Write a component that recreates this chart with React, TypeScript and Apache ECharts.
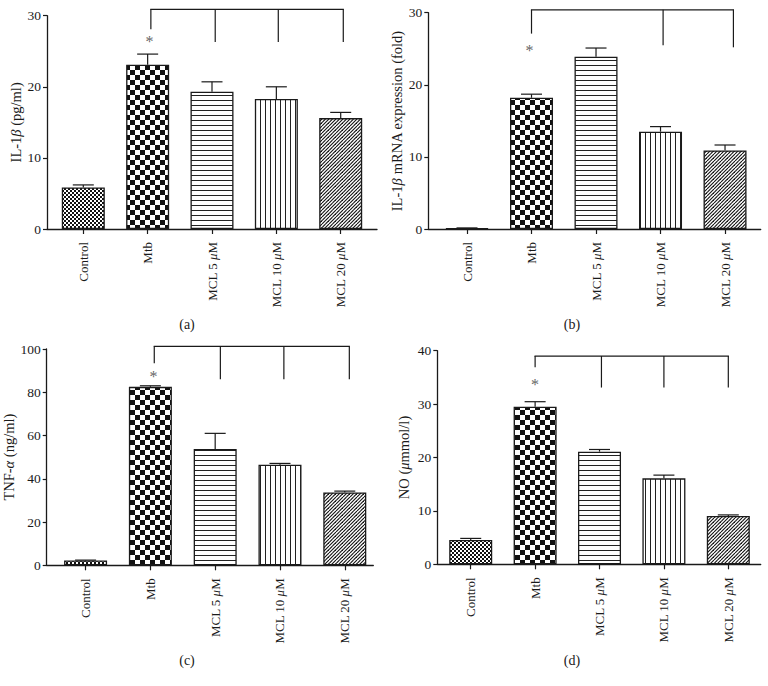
import React, { useEffect, useRef } from 'react';
import * as echarts from 'echarts';

// ---------- data ----------
const categories = ['Control', 'Mtb', 'MCL 5 μM', 'MCL 10 μM', 'MCL 20 μM'];
const categoryIndex = [0, 1, 2, 3, 4];

// (a) IL-1β protein (pg/ml)
const il1bProtein = [5.85, 23.1, 19.3, 18.3, 15.6];
const il1bProteinErr = [0.35, 1.5, 1.4, 1.7, 0.8];
// (b) IL-1β mRNA (fold)
const il1bMrna = [0.1, 18.2, 23.9, 13.5, 10.9];
const il1bMrnaErr = [0.05, 0.5, 1.2, 0.7, 0.75];
// (c) TNF-α (ng/ml)
const tnfAlpha = [2.2, 82.5, 53.8, 46.5, 33.7];
const tnfAlphaErr = [0.2, 0.5, 7.2, 0.6, 0.6];
// (d) NO (μmmol/l)
const nitricOxide = [4.55, 29.5, 21.1, 16.1, 9.05];
const nitricOxideErr = [0.3, 0.95, 0.4, 0.6, 0.2];

// significance brackets (x in category units, y in data units)
const bracketAX = [1.05, 2.05, 3.03, 4.04];
const bracketABottom = [28.1, 26.3, 26.3, 26.3];
const bracketATop = 30.9;
const starA = [1.03, 26.6];

const bracketBX = [1.0, 3.04, 4.13];
const bracketBBottom = [27.1, 25.5, 25.2];
const bracketBTop = 30.4;
const starB = [0.97, 25.1];

const bracketCX = [1.06, 2.08, 3.06, 4.07];
const bracketCBottom = [93.4, 86.0, 86.0, 86.0];
const bracketCTop = 101.2;
const starC = [1.05, 88.4];

const bracketDX = [1.0, 2.03, 3.0, 4.0];
const bracketDBottom = [36.9, 33.1, 33.1, 33.1];
const bracketDTop = 39.0;
const starD = [1.0, 34.1];

const FONT = "'Liberation Serif', 'Times New Roman', serif";
const INK = '#1a1a1a';

function makePattern(kind: string) {
  const c = document.createElement('canvas');
  let w = 4, h = 4;
  if (kind === 'coarse') { w = 10; h = 10; }
  if (kind === 'h') { w = 4; h = 5; }
  if (kind === 'v') { w = 5; h = 4; }
  if (kind === 'diag') { w = 7; h = 7; }
  c.width = w; c.height = h;
  const ctx = c.getContext('2d')!;
  ctx.fillStyle = '#ffffff';
  ctx.fillRect(0, 0, w, h);
  ctx.fillStyle = '#111111';
  ctx.strokeStyle = '#111111';
  if (kind === 'fine') {
    ctx.fillRect(0, 0, 2, 2);
    ctx.fillRect(2, 2, 2, 2);
  } else if (kind === 'coarse') {
    ctx.fillRect(0, 0, 5, 5);
    ctx.fillRect(5, 5, 5, 5);
  } else if (kind === 'h') {
    ctx.fillStyle = '#222';
    ctx.fillRect(0, 0, w, 1);
  } else if (kind === 'v') {
    ctx.fillStyle = '#222';
    ctx.fillRect(0, 0, 1, h);
  } else if (kind === 'diag') {
    ctx.lineWidth = 1.1;
    for (const k of [-7, -3.5, 0, 3.5, 7]) {
      ctx.beginPath();
      ctx.moveTo(k, h);
      ctx.lineTo(k + w, 0);
      ctx.stroke();
    }
  }
  return { image: c.toDataURL(), repeat: 'repeat', imageWidth: w, imageHeight: h };
}

export default function App() {
  const ref = useRef<HTMLDivElement>(null);
  useEffect(() => {
    if (!ref.current) return;
    const chart = echarts.init(ref.current, undefined, { renderer: 'svg' });
    const patterns = ['fine', 'coarse', 'h', 'v', 'diag'].map(makePattern);

    const panels = [
      {
        grid: { left: 47, top: 15.7, width: 330, height: 213.3 },
        xMin: -0.564, xMax: 4.564, yMax: 30, yInterval: 10,
        name: '{n|IL-1}{i|β}{n| (pg/ml)}', nameGap: 24,
        values: il1bProtein, errs: il1bProteinErr,
        bx: bracketAX, bb: bracketABottom, bt: bracketATop, star: starA,
      },
      {
        grid: { left: 428.3, top: 12.7, width: 332.4, height: 216.3 },
        xMin: -0.6, xMax: 4.553, yMax: 30, yInterval: 10,
        name: '{n|IL-1}{i|β}{n| mRNA expression (fold)}', nameGap: 24,
        values: il1bMrna, errs: il1bMrnaErr,
        bx: bracketBX, bb: bracketBBottom, bt: bracketBTop, star: starB,
      },
      {
        grid: { left: 46.7, top: 349, width: 326.6, height: 216.3 },
        xMin: -0.6, xMax: 4.44, yMax: 100, yInterval: 20,
        name: '{n|TNF-}{i|α}{n| (ng/ml)}', nameGap: 24,
        values: tnfAlpha, errs: tnfAlphaErr,
        bx: bracketCX, bb: bracketCBottom, bt: bracketCTop, star: starC,
      },
      {
        grid: { left: 437.3, top: 350.7, width: 323.4, height: 213.6 },
        xMin: -0.519, xMax: 4.503, yMax: 40, yInterval: 10,
        name: '{n|NO (}{i|μ}{n|mmol/l)}', nameGap: 26,
        values: nitricOxide, errs: nitricOxideErr,
        bx: bracketDX, bb: bracketDBottom, bt: bracketDTop, star: starD,
      },
    ];

    const richLabel = {
      i: { fontStyle: 'italic', fontFamily: FONT, fontSize: 13, color: INK },
      n: { fontFamily: FONT, fontSize: 13, color: INK },
    };
    const richName = {
      i: { fontStyle: 'italic', fontFamily: FONT, fontSize: 14.5, color: INK },
      n: { fontFamily: FONT, fontSize: 14.5, color: INK },
    };

    const grids: any[] = [];
    const xAxes: any[] = [];
    const yAxes: any[] = [];
    const series: any[] = [];

    panels.forEach((p, gi) => {
      grids.push(p.grid);
      xAxes.push({
        type: 'value', gridIndex: gi, min: p.xMin, max: p.xMax,
        splitLine: { show: false },
        axisLine: { show: true, onZero: false, lineStyle: { color: INK, width: 1.3 } },
        axisTick: { show: true, length: 5, customValues: categoryIndex, lineStyle: { color: INK, width: 1.2 } },
        axisLabel: {
          show: true, rotate: 90, margin: 13, customValues: categoryIndex,
          fontFamily: FONT, fontSize: 13, color: INK,
          formatter: (v: number) => {
            const s = categories[Math.round(v)] || '';
            const k = s.indexOf('μ');
            if (k < 0) return '{n|' + s + '}';
            return '{n|' + s.slice(0, k) + '}{i|μ}{n|' + s.slice(k + 1) + '}';
          },
          rich: richLabel,
        },
      });
      yAxes.push({
        type: 'value', gridIndex: gi, min: 0, max: p.yMax, interval: p.yInterval,
        splitLine: { show: false },
        axisLine: { show: true, onZero: false, lineStyle: { color: INK, width: 1.3 } },
        axisTick: { show: true, length: 4, lineStyle: { color: INK, width: 1.2 } },
        axisLabel: { fontFamily: FONT, fontSize: 13.5, color: INK, margin: 6 },
        name: p.name, nameLocation: 'middle', nameGap: p.nameGap,
        nameTextStyle: { fontFamily: FONT, fontSize: 14.5, color: INK, rich: richName },
      });

      series.push({
        type: 'bar', xAxisIndex: gi, yAxisIndex: gi, barWidth: 43,
        data: categoryIndex.map((x, i) => ({
          value: [x, p.values[i]],
          itemStyle: { color: patterns[i], borderColor: INK, borderWidth: 1.3 },
        })),
        z: 2,
      });

      series.push({
        type: 'custom', xAxisIndex: gi, yAxisIndex: gi, z: 3,
        data: categoryIndex.map((x, i) => [x, p.values[i], p.values[i] + p.errs[i]]),
        encode: { x: 0, y: [1, 2] },
        renderItem: (params: any, api: any) => {
          const a = api.coord([api.value(0), api.value(1)]);
          const b = api.coord([api.value(0), api.value(2)]);
          const st = { stroke: INK, lineWidth: 1.2 };
          return {
            type: 'group',
            children: [
              { type: 'line', shape: { x1: a[0], y1: a[1], x2: b[0], y2: b[1] }, style: st },
              { type: 'line', shape: { x1: b[0] - 10.5, y1: b[1], x2: b[0] + 10.5, y2: b[1] }, style: st },
            ],
          };
        },
      });

      const bx = p.bx, bb = p.bb, bt = p.bt;
      series.push({
        type: 'custom', xAxisIndex: gi, yAxisIndex: gi, z: 3, clip: false,
        data: bx.map((x, i) => [x, bb[i], bt]),
        encode: { x: 0, y: [1, 2] },
        renderItem: (params: any, api: any) => {
          const a = api.coord([api.value(0), api.value(1)]);
          const b = api.coord([api.value(0), api.value(2)]);
          const st = { stroke: INK, lineWidth: 1.2 };
          const children: any[] = [
            { type: 'line', shape: { x1: a[0], y1: a[1], x2: b[0], y2: b[1] }, style: st },
          ];
          if (params.dataIndex === 0) {
            const l = api.coord([bx[0], bt]);
            const r = api.coord([bx[bx.length - 1], bt]);
            children.push({ type: 'line', shape: { x1: l[0] - 0.6, y1: l[1], x2: r[0] + 0.6, y2: r[1] }, style: st });
          }
          return { type: 'group', children };
        },
      });

      series.push({
        type: 'custom', xAxisIndex: gi, yAxisIndex: gi, z: 3, clip: false,
        data: [p.star],
        renderItem: (params: any, api: any) => {
          const c = api.coord([api.value(0), api.value(1)]);
          return {
            type: 'text', x: c[0], y: c[1] + 2,
            style: { text: '*', fontFamily: FONT, fontSize: 16, fill: '#666666', align: 'center', verticalAlign: 'middle' },
          };
        },
      });
    });

    const panelLabels = [
      { t: '(a)', x: 187, y: 324 },
      { t: '(b)', x: 572, y: 324 },
      { t: '(c)', x: 187, y: 660 },
      { t: '(d)', x: 572, y: 660 },
    ];

    chart.setOption({
      animation: false,
      backgroundColor: '#ffffff',
      grid: grids,
      xAxis: xAxes,
      yAxis: yAxes,
      series,
      graphic: panelLabels.map((l) => ({
        type: 'text', x: l.x, y: l.y,
        style: { text: l.t, fontFamily: FONT, fontSize: 14, fill: INK, align: 'center', verticalAlign: 'middle' },
      })),
    });
    return () => chart.dispose();
  }, []);
  return <div ref={ref} style={{ position: 'absolute', left: 0, top: 0, width: 768, height: 686 }} />;
}
